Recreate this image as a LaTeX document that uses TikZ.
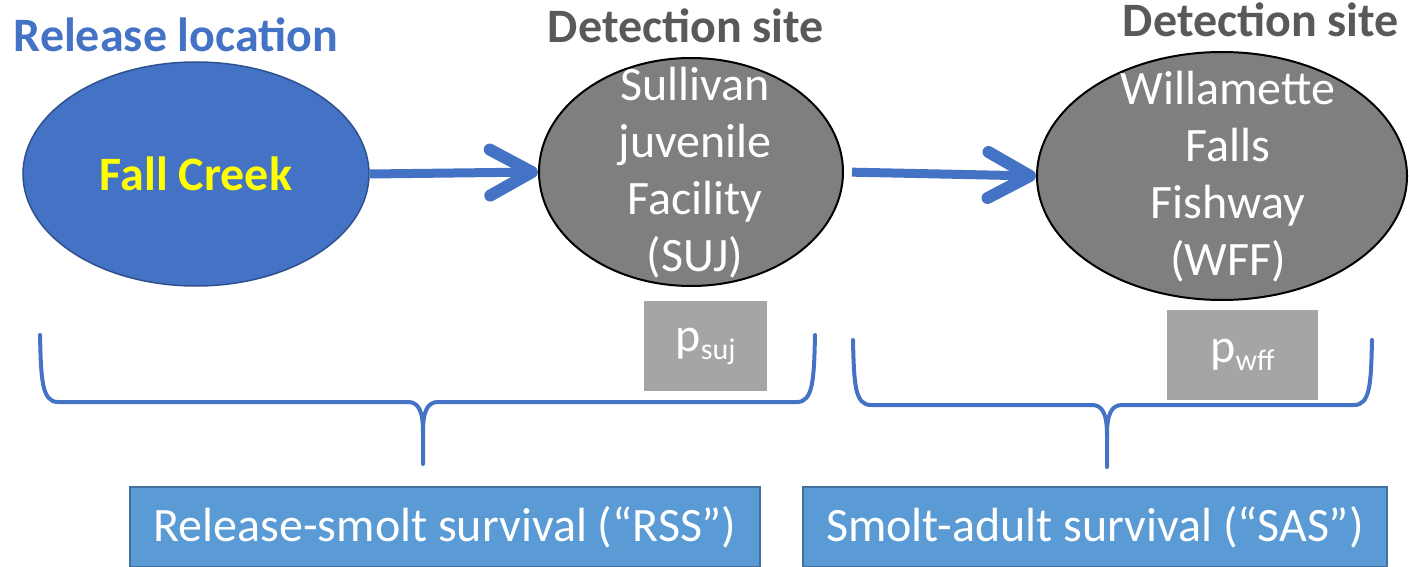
\documentclass[tikz,border=0pt]{standalone}
\usepackage{fontspec}
\setmainfont{Carlito}
\usetikzlibrary{arrows.meta,shapes.geometric}

\definecolor{blueA}{HTML}{4472C4}
\definecolor{blueEdge}{HTML}{2F528F}
\definecolor{titleGray}{HTML}{595959}
\definecolor{siteGray}{HTML}{7F7F7F}
\definecolor{pGray}{HTML}{A5A5A5}
\definecolor{survFill}{HTML}{5B9BD5}
\definecolor{survEdge}{HTML}{41719C}
\definecolor{fcYellow}{HTML}{FFFF00}

\tikzset{
  headline/.style={font=\fontsize{48}{52}\selectfont\bfseries, anchor=base, inner sep=0pt},
  releaseell/.style={ellipse, draw=blueEdge, line width=1.5pt, fill=blueA, inner sep=0pt},
  siteell/.style={ellipse, draw=black, line width=2pt, fill=siteGray, inner sep=0pt},
  sitetext/.style={text=white, align=center, inner sep=0pt, font=\fontsize{48}{57}\selectfont},
  pbox/.style={rectangle, fill=pGray, inner sep=0pt, text=white, font=\fontsize{48}{52}\selectfont},
  survbox/.style={rectangle, draw=survEdge, line width=1.5pt, fill=survFill, inner sep=0pt,
    text=white, font=\fontsize{48}{52}\selectfont},
  flow/.style={draw=blueA, line width=9pt,
    -{Straight Barb[round, length=42pt, width=46pt, line width=12pt]}},
  bracket/.style={draw=blueA, line width=4pt, line cap=round, line join=round}
}
\newcommand{\subtxt}[1]{{\fontsize{30}{30}\selectfont\raisebox{-8pt}{#1}}}

\begin{document}
\begin{tikzpicture}[x=1pt, y=-1pt]
\useasboundingbox (0,0) rectangle (1409,567);

% release location and detection sites
\node[releaseell, minimum width=346pt, minimum height=224pt] (fc) at (196,174) {};
\node[siteell, minimum width=304pt, minimum height=228pt] (suj) at (691,172) {};
\node[siteell, minimum width=370pt, minimum height=248pt] (wff) at (1222,176) {};

\node[headline, text=fcYellow] (fctext) at (196,190) {Fall Creek};
\node[sitetext] (sujtext) at (695,173) {Sullivan\\juvenile\\Facility\\(SUJ)};
\node[sitetext] (wfftext) at (1228,177) {Willamette\\Falls\\Fishway\\(WFF)};

% headings
\node[headline, text=blueA] (rl) at (176,52) {Release location};
\node[headline, text=titleGray] (ds1) at (686,43) {Detection site};
\node[headline, text=titleGray] (ds2) at (1261,37) {Detection site};

% movement between sites
\draw[flow] (fc.east) -- (suj.west);
\draw[flow, shorten <=8pt] (suj.east) -- (wff.west);

% detection probabilities
\node[pbox, minimum width=123pt, minimum height=90pt] (psuj) at (705.5,346) {p\subtxt{suj}};
\node[pbox, minimum width=151pt, minimum height=90pt] (pwff) at (1242.5,355) {p\subtxt{wff}};

% survival segments
\node[survbox, minimum width=630pt, minimum height=80pt] (rss) at (445,527)
  {Release-smolt survival (“RSS”)};
\node[survbox, minimum width=584pt, minimum height=80pt] (sas) at (1095,527)
  {Smolt-adult survival (“SAS”)};

% braces grouping the reaches
\coordinate (b1l) at (40,335);
\coordinate (b1r) at (815,335);
\coordinate (b1s) at (423,464);
\draw[bracket] (b1l) .. controls (41,380) and (42,402) .. (58,402)
  -- (408,402) .. controls (419,402) and (423,412) .. (423,432) -- (b1s);
\draw[bracket] (b1r) .. controls (814,380) and (813,402) .. (797,402)
  -- (438,402) .. controls (427,402) and (423,412) .. (423,432);

\coordinate (b2l) at (853,340);
\coordinate (b2r) at (1372,340);
\coordinate (b2s) at (1107,467);
\draw[bracket] (b2l) .. controls (854,385) and (855,405) .. (871,405)
  -- (1092,405) .. controls (1103,405) and (1107,415) .. (1107,435) -- (b2s);
\draw[bracket] (b2r) .. controls (1371,385) and (1370,405) .. (1354,405)
  -- (1122,405) .. controls (1111,405) and (1107,415) .. (1107,435);
\end{tikzpicture}
\end{document}
